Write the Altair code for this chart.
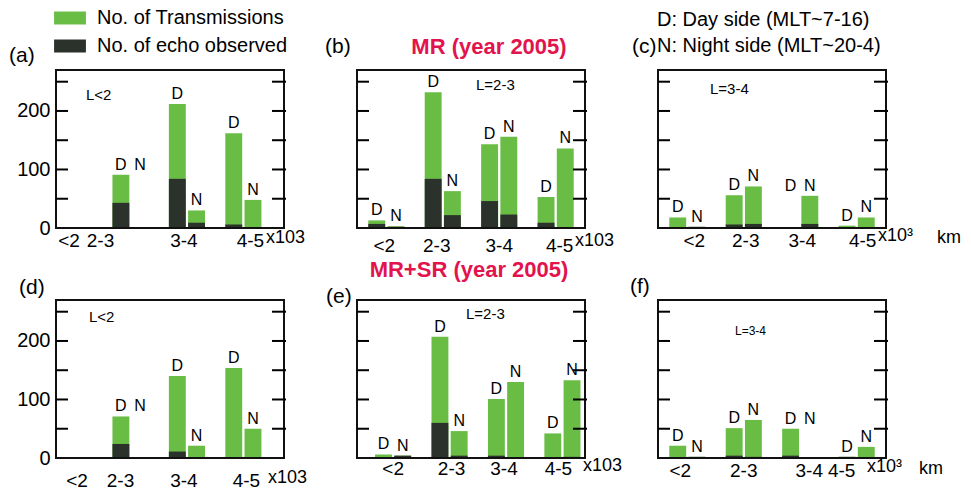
import altair as alt
import pandas as pd

# ---------------- data ----------------
cats = ["<2", "2-3", "3-4", "4-5"]
sides = ["D", "N"]
T_NAME = "No. of Transmissions"
E_NAME = "No. of echo observed"

# (a) MR, L<2
a_D_total = [0, 91, 212, 162]
a_D_echo = [0, 43, 84, 6]
a_N_total = [0, 0, 30, 48]
a_N_echo = [0, 0, 9, 0]
# (b) MR, L=2-3
b_D_total = [13, 232, 143, 53]
b_D_echo = [7, 84, 46, 9]
b_N_total = [3, 63, 156, 136]
b_N_echo = [2, 22, 23, 1]
# (c) MR, L=3-4
c_D_total = [18, 56, 0, 4]
c_D_echo = [0, 6, 0, 0]
c_N_total = [2, 71, 55, 18]
c_N_echo = [2, 7, 7, 0]
# (d) MR+SR, L<2
d_D_total = [0, 71, 140, 154]
d_D_echo = [0, 24, 11, 0]
d_N_total = [0, 0, 21, 50]
d_N_echo = [0, 0, 0, 0]
# (e) MR+SR, L=2-3
e_D_total = [6, 207, 101, 42]
e_D_echo = [0, 60, 4, 0]
e_N_total = [4, 46, 130, 133]
e_N_echo = [4, 4, 0, 2]
# (f) MR+SR, L=3-4
f_D_total = [21, 51, 50, 2]
f_D_echo = [0, 4, 4, 2]
f_N_total = [2, 65, 0, 19]
f_N_echo = [2, 2, 0, 0]

y_ticks = [50, 100, 150, 200, 250]
y_labels = [0, 100, 200]
y_max = 270

GREEN = "#69bd45"
DARK = "#2b322c"
RED = "#e2134d"
FONT = "Liberation Sans"
W, H = 228, 158


def panel(dt, de, nt, ne, letter, letter_xy, lname, l_xy, l_size, align, lab_pad,
          lab_offs, unit_xy, show_y, title=None, title_xy=None, km_x=None, key=False):
    rows = []
    labs = []
    for i, c in enumerate(cats):
        rows.append(dict(cat=c, side="D", total=dt[i], echo=de[i], mt=T_NAME, me=E_NAME))
        rows.append(dict(cat=c, side="N", total=nt[i], echo=ne[i], mt=T_NAME, me=E_NAME))
        if max(dt[i], nt[i]) > 0:
            for s, own, other in (("D", dt[i], nt[i]), ("N", nt[i], dt[i])):
                labs.append(dict(cat=c, side=s, anchor=own if own > 0 else other))
    df = pd.DataFrame(rows)
    dl = pd.DataFrame(labs)

    xs = alt.Scale(domain=cats, paddingInner=0.36, paddingOuter=0.2, align=align)
    offset_rule = {
        "condition": [{"test": f"datum.value == '{c}'", "value": o}
                      for c, o in zip(cats, lab_offs)],
        "value": 0,
    }
    xaxis = alt.Axis(title=None, ticks=False, domain=False, labelAngle=0,
                     labelFontSize=19, labelFont=FONT, labelColor="#000",
                     labelPadding=lab_pad, labelOffset=offset_rule)
    xo = alt.XOffset("side:N", scale=alt.Scale(domain=sides, paddingInner=0.12))
    ys = alt.Scale(domain=[0, y_max], nice=False)
    if show_y:
        yaxis = alt.Axis(title=None, values=y_labels, ticks=False, domain=False,
                         grid=False, labelFontSize=20, labelFont=FONT,
                         labelColor="#000", labelPadding=6)
    else:
        yaxis = None

    cscale = alt.Scale(domain=[T_NAME, E_NAME], range=[GREEN, DARK])
    legend = alt.Legend(title=None, orient="none", legendX=4, legendY=-62,
                        symbolType="M-2.45,-1H2.45V1H-2.45Z", symbolSize=169,
                        symbolStrokeWidth=0, symbolOpacity=1,
                        labelFontSize=20, labelFont=FONT, labelColor="#000",
                        labelOffset=17, rowPadding=8, labelLimit=400)

    base = alt.Chart(df)
    green = base.mark_bar().encode(
        x=alt.X("cat:N", scale=xs, axis=xaxis),
        xOffset=xo,
        y=alt.Y("total:Q", scale=ys, axis=yaxis),
        color=alt.Color("mt:N", scale=cscale, legend=legend if key else None),
    )
    dark = base.mark_bar().encode(
        x=alt.X("cat:N", scale=xs, axis=xaxis),
        xOffset=xo,
        y=alt.Y("echo:Q", scale=ys, axis=yaxis),
        color=alt.Color("me:N", scale=cscale, legend=legend if key else None),
    )
    labels = alt.Chart(dl).mark_text(baseline="bottom", dy=-2, fontSize=16,
                                     font=FONT, color="#000").encode(
        x=alt.X("cat:N", scale=xs, axis=xaxis),
        xOffset=xo,
        y=alt.Y("anchor:Q", scale=ys, axis=yaxis),
        text="side:N",
    )
    tdf = pd.DataFrame({"v": y_ticks})
    tick_l = alt.Chart(tdf).mark_rule(color="#000", strokeWidth=2).encode(
        y=alt.Y("v:Q", scale=ys, axis=yaxis), x=alt.value(0), x2=alt.value(12))
    tick_r = alt.Chart(tdf).mark_rule(color="#000", strokeWidth=2).encode(
        y=alt.Y("v:Q", scale=ys, axis=yaxis), x=alt.value(W - 12), x2=alt.value(W + 2))

    # frame drawn through the y scale (top and bottom edges, then the sides)
    hdf = pd.DataFrame({"v": [0, y_max]})
    frame_h = alt.Chart(hdf).mark_rule(color="#111", strokeWidth=2).encode(
        y=alt.Y("v:Q", scale=ys, axis=yaxis), x=alt.value(0), x2=alt.value(W))
    vdf = pd.DataFrame({"lo": [0, 0], "hi": [y_max, y_max], "px": [0, W]})
    frame_v = alt.Chart(vdf).mark_rule(color="#111", strokeWidth=2).encode(
        y=alt.Y("lo:Q", scale=ys, axis=yaxis), y2="hi:Q",
        x=alt.X("px:Q", scale=None))

    def txt(s, x, y, size, align="left", weight="normal", color="#000"):
        return alt.Chart(pd.DataFrame({"t": [s]})).mark_text(
            align=align, baseline="middle", fontSize=size, font=FONT,
            fontWeight=weight, color=color).encode(
            x=alt.value(x), y=alt.value(y), text="t:N")

    layers = [green, dark, labels, frame_h, frame_v, tick_l, tick_r,
              txt(letter, letter_xy[0], letter_xy[1], 21),
              txt(lname, l_xy[0], l_xy[1], l_size)]
    if km_x is None:
        layers.append(txt("x103", unit_xy[0], unit_xy[1], 18))
    else:
        layers.append(txt("x10³", unit_xy[0], unit_xy[1], 18))
        layers.append(txt("km", km_x, unit_xy[1] + 2, 18))
    if title:
        layers.append(txt(title, title_xy[0], title_xy[1], 22, align="center",
                          weight="bold", color=RED))
    if letter == "(c)":
        layers.append(txt("D: Day side (MLT~7-16)", -1, -50, 20))
        layers.append(txt("N: Night side (MLT~20-4)", -1, -24, 20))
    return alt.layer(*layers).properties(width=W, height=H)


pa = panel(a_D_total, a_D_echo, a_N_total, a_N_echo, "(a)", (-47, -14), "L<2", (30, 25), 15,
           0.0, 3, [-5, -30, -3, 7], (210, H + 10), True, key=True)
pb = panel(b_D_total, b_D_echo, b_N_total, b_N_echo, "(b)", (-32, -23), "L=2-3", (119, 15), 15,
           0.5, 8, [-2, -6, 0, 4], (218, H + 13), False, title="MR (year 2005)", title_xy=(132, -23))
pc = panel(c_D_total, c_D_echo, c_N_total, c_N_echo, "(c)", (-26, -23), "L=3-4", (52, 19), 15,
           0.5, 3, [7, 2, 2, 6], (220, H + 8), False, km_x=279)
pd_ = panel(d_D_total, d_D_echo, d_N_total, d_N_echo, "(d)", (-37, -12), "L<2", (33, 17), 15,
            0.0, 13, [3, -10, -3, 3], (212, H + 20), True)
pe = panel(e_D_total, e_D_echo, e_N_total, e_N_echo, "(e)", (-31, -3), "L=2-3", (109, 14), 15,
           0.8, 1, [0, 2, -2, -4], (226, H + 8), False, title="MR+SR (year 2005)", title_xy=(112, -30))
pf = panel(f_D_total, f_D_echo, f_N_total, f_N_echo, "(f)", (-28, -13), "L=3-4", (77, 31), 12,
           0.5, 3, [-7, 0, 9, -15], (209, H + 9), False, km_x=261)

chart = alt.concat(
    pa, pb, pc, pd_, pe, pf, columns=3,
    spacing=alt.RowColnumber(row=72, column=73), bounds="flush",
).properties(
    padding={"left": 0, "top": 0, "right": 0, "bottom": 0}, background="white"
).configure_view(stroke="#111", strokeWidth=2)

chart.save("out.html", embed_options={"renderer": "svg", "actions": False})
